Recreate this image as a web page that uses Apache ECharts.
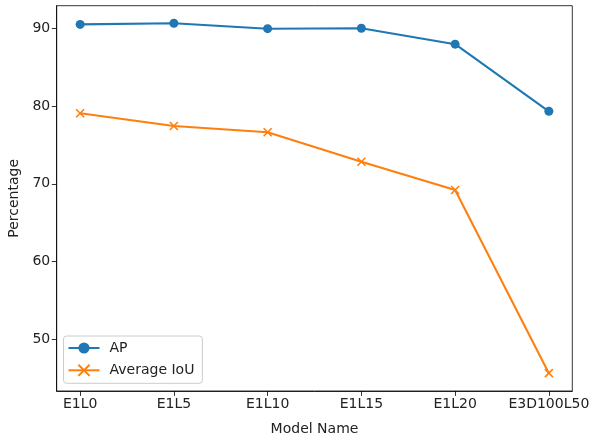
<!DOCTYPE html>
<html>
<head>
<meta charset="utf-8">
<script src="https://cdn.jsdelivr.net/npm/echarts@6/dist/echarts.min.js"></script>
<style>
  html, body { margin: 0; padding: 0; background: #fff; }
  #chart { width: 590px; height: 441px; }
</style>
</head>
<body>
<div id="chart"></div>
<script>
// Model variants along the x axis
const models = ['E1L0', 'E1L5', 'E1L10', 'E1L15', 'E1L20', 'E3D100L50'];
// Detection AP per model (%)
const apValues = [90.55, 90.7, 90.0, 90.05, 88.0, 79.35];
// Average IoU per model (%)
const iouValues = [79.1, 77.45, 76.65, 72.85, 69.2, 45.6];
// Y tick labels
const yTicks = [50, 60, 70, 80, 90];

const xIdx = models.map((_, i) => i);
const font = 'DejaVu Sans';
const textColor = '#222';

const chart = echarts.init(document.getElementById('chart'), null, { renderer: 'canvas' });

const crossPath = 'path://M0,0L10,10M10,0L0,10';

chart.setOption({
  animation: false,
  backgroundColor: '#fff',
  grid: {
    left: 56.7, right: 17.7, top: 5.7, bottom: 50,
    outerBoundsMode: 'none',
    containLabel: false,
    show: true, borderColor: '#000', borderWidth: 0.8, backgroundColor: 'transparent'
  },
  legend: {
    orient: 'vertical',
    left: 63.5, top: 336,
    padding: [5, 8, 6, 4],
    itemGap: 8.3,
    itemWidth: 31,
    itemHeight: 14,
    backgroundColor: 'rgba(255,255,255,0.8)',
    borderColor: '#ccc',
    borderWidth: 1,
    borderRadius: 3,
    textStyle: { fontFamily: font, fontSize: 14, color: textColor, padding: [0, 0, 0, 5] },
    data: ['AP', 'Average IoU']
  },
  xAxis: {
    type: 'value',
    min: -0.25, max: 5.25,
    name: 'Model Name',
    nameLocation: 'middle',
    nameGap: 31,
    nameTextStyle: { fontFamily: font, fontSize: 14, color: textColor },
    splitLine: { show: false },
    axisLine: { show: true, onZero: false, lineStyle: { color: '#000', width: 0.8 } },
    axisTick: { show: true, inside: false, length: 4.9, lineStyle: { color: '#000', width: 0.8 }, customValues: xIdx },
    axisLabel: {
      customValues: xIdx,
      margin: 6.5,
      fontFamily: font, fontSize: 14, color: textColor,
      formatter: v => models[Math.round(v)]
    }
  },
  yAxis: {
    type: 'value',
    min: 43.3, max: 92.96,
    name: 'Percentage',
    nameLocation: 'middle',
    nameGap: 35,
    nameRotate: 90,
    nameTextStyle: { fontFamily: font, fontSize: 14, color: textColor },
    splitLine: { show: false },
    axisLine: { show: true, onZero: false, lineStyle: { color: '#000', width: 0.8 } },
    axisTick: { show: true, inside: false, length: 4.9, lineStyle: { color: '#000', width: 0.8 }, customValues: yTicks },
    axisLabel: {
      customValues: yTicks,
      margin: 6.5,
      fontFamily: font, fontSize: 14, color: textColor
    }
  },
  series: [
    {
      name: 'AP',
      type: 'line',
      data: apValues.map((v, i) => [i, v]),
      symbol: 'circle',
      symbolSize: 9,
      showAllSymbol: true,
      lineStyle: { color: '#1f77b4', width: 2.08 },
      itemStyle: { color: '#1f77b4', borderWidth: 0 },
      z: 3
    },
    {
      name: 'Average IoU',
      type: 'line',
      data: iouValues.map((v, i) => [i, v]),
      symbol: crossPath,
      symbolSize: 8,
      showAllSymbol: true,
      lineStyle: { color: '#ff7f0e', width: 2.08 },
      itemStyle: { color: '#ff7f0e', borderColor: '#ff7f0e', borderWidth: 1.6 },
      z: 3
    }
  ]
});
</script>
</body>
</html>
